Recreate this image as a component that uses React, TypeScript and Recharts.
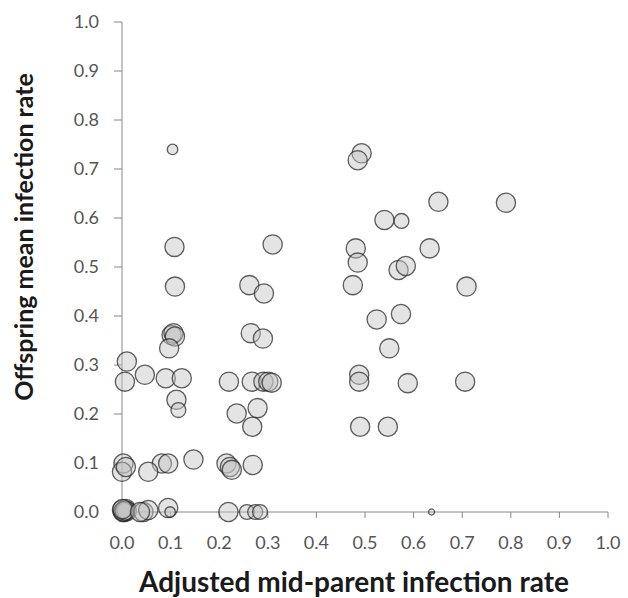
import { ScatterChart, Scatter, XAxis, YAxis, ZAxis, Label } from 'recharts';

// Adjusted mid-parent infection rate
const midParent = [
  0.104, 0.108, 0.31, 0.493, 0.485, 0.651, 0.79, 0.54, 0.575, 0.481,
  0.485, 0.633, 0.569, 0.584, 0.475, 0.709, 0.524, 0.574, 0.55, 0.488,
  0.488, 0.588, 0.706, 0.49, 0.547, 0.637,
  0.109, 0.262, 0.292, 0.102, 0.106, 0.109, 0.097, 0.265, 0.29, 0.01,
  0.006, 0.047, 0.09, 0.123, 0.112, 0.116, 0.22, 0.267, 0.291, 0.301,
  0.308, 0.236, 0.279, 0.268,
  0.215, 0.222, 0.226, 0.269, 0.147, 0.082, 0.095, 0.054, 0.003, 0.0,
  0.008,
  0.0, 0.005, 0.008, 0.002, 0.01, 0.003, 0.006, 0.001,
  0.044, 0.054, 0.037, 0.095, 0.099,
  0.219, 0.257, 0.274, 0.284,
];

// Offspring mean infection rate
const offspring = [
  0.74, 0.541, 0.546, 0.732, 0.718, 0.633, 0.631, 0.596, 0.594, 0.538,
  0.509, 0.538, 0.494, 0.502, 0.463, 0.46, 0.393, 0.404, 0.334, 0.28,
  0.266, 0.263, 0.266, 0.174, 0.174, 0.0,
  0.46, 0.463, 0.446, 0.361, 0.365, 0.358, 0.334, 0.365, 0.354, 0.307,
  0.266, 0.28, 0.273, 0.273, 0.229, 0.208, 0.266, 0.266, 0.266, 0.266,
  0.264, 0.201, 0.212, 0.174,
  0.099, 0.092, 0.086, 0.096, 0.107, 0.099, 0.099, 0.082, 0.099, 0.082,
  0.092,
  0.004, 0.0, 0.006, 0.0, 0.002, 0.001, 0.003, 0.006,
  0.0, 0.004, 0.0, 0.008, 0.0,
  0.0, 0.0, 0.0, 0.0,
];

// bubble size (relative number of offspring)
const bubbleSize = [
  3, 10, 10, 10, 10, 10, 10, 10, 6, 10,
  10, 10, 10, 10, 10, 10, 10, 10, 10, 10,
  10, 10, 10, 10, 10, 1,
  10, 10, 10, 10, 10, 10, 10, 10, 10, 10,
  10, 10, 10, 10, 10, 6, 10, 10, 10, 10,
  10, 10, 10, 10,
  10, 10, 10, 10, 10, 10, 10, 10, 10, 10,
  10,
  10, 10, 10, 10, 10, 10, 10, 10,
  10, 10, 10, 10, 3,
  10, 6, 6, 6,
];

const ticks = [0, 0.1, 0.2, 0.3, 0.4, 0.5, 0.6, 0.7, 0.8, 0.9, 1.0];

const data = midParent.map((x, i) => ({ x, y: offspring[i], z: bubbleSize[i] }));

const font = 'Lato, "Open Sans", sans-serif';
const tickStyle = { fontFamily: font, fontSize: 18, fill: '#555' };

const XTitle = ({ viewBox }: any) => (
  <text x={viewBox.x + 232} y={viewBox.y + 80} textAnchor="middle" fontFamily={font} fontSize={28} fontWeight={700} fill="#1a1a1a">
    Adjusted mid-parent infection rate
  </text>
);

const YTitle = ({ viewBox }: any) => {
  const cx = viewBox.x + 33;
  const cy = viewBox.y + 215;
  return (
    <text x={cx} y={cy} transform={`rotate(-90, ${cx}, ${cy})`} textAnchor="middle" fontFamily={font} fontSize={25} fontWeight={700} fill="#1a1a1a">
      Offspring mean infection rate
    </text>
  );
};

export default function App() {
  return (
    <div style={{ position: 'absolute', left: 0, top: 0, background: '#fff' }}>
      <ScatterChart width={628} height={598} margin={{ top: 22, right: 20, left: 0, bottom: 0 }}>
        <XAxis
          type="number"
          dataKey="x"
          domain={[0, 1]}
          ticks={ticks}
          tickFormatter={(v: number) => v.toFixed(1)}
          height={86}
          tickSize={6}
          tickMargin={18}
          tick={tickStyle}
          stroke="#888"
        >
          <Label content={XTitle} />
        </XAxis>
        <YAxis
          type="number"
          dataKey="y"
          domain={[0, 1]}
          ticks={ticks}
          tickFormatter={(v: number) => v.toFixed(1)}
          width={122}
          tickSize={8}
          tickMargin={15}
          tick={tickStyle}
          stroke="#888"
        >
          <Label content={YTitle} />
        </YAxis>
        <ZAxis type="number" dataKey="z" domain={[0, 10]} range={[0, 290]} />
        <Scatter
          data={data}
          fill="#c4c4c4"
          fillOpacity={0.45}
          stroke="#2a2a2a"
          strokeOpacity={0.75}
          strokeWidth={1.3}
          isAnimationActive={false}
        />
      </ScatterChart>
    </div>
  );
}
